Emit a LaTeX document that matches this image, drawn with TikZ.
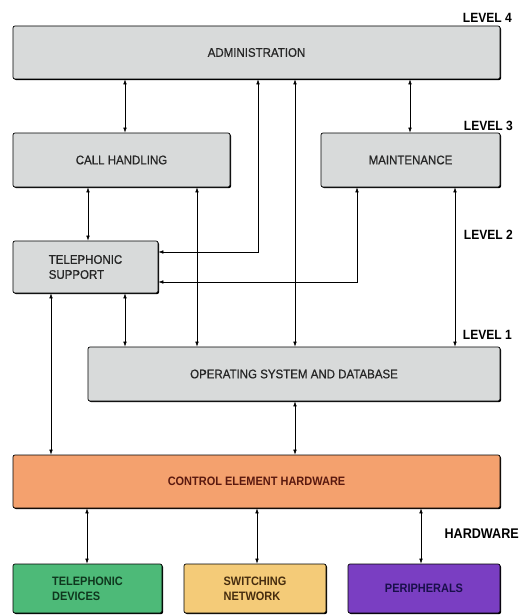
\documentclass[tikz,border=0pt]{standalone}
\usepackage{fontspec}
\setmainfont{Liberation Sans}
\newfontfamily\graytxt{Liberation Sans}[FakeStretch=0.92, FakeBold=0.7]
\newfontfamily\condtxt{Liberation Sans}[FakeStretch=0.9]
\usetikzlibrary{arrows.meta,shadows}
\definecolor{boxgray}{HTML}{D8DADA}
\definecolor{ceh}{HTML}{F4A16E}
\definecolor{tdev}{HTML}{4DBA78}
\definecolor{swn}{HTML}{F4CB78}
\definecolor{per}{HTML}{7A3EC2}
\definecolor{txtgray}{HTML}{262626}
\tikzset{
  blk/.style={draw=black, line width=0.7pt, rounded corners=2pt, fill=boxgray,
    drop shadow={shadow xshift=1.1pt, shadow yshift=-1.1pt, opacity=1, fill=black},
    inner sep=0pt, text=txtgray, font=\graytxt\fontsize{12.5}{15}\selectfont, align=center},
  hwblk/.style={blk, font=\condtxt\bfseries\fontsize{12.2}{15}\selectfont},
  lvl/.style={font=\condtxt\bfseries\fontsize{13.4}{15}\selectfont, text=black, inner sep=0pt, anchor=east},
  con/.style={line width=0.6pt, {Latex[length=5pt,width=3.6pt]}-{Latex[length=5pt,width=3.6pt]}},
}
\begin{document}
\begin{tikzpicture}[x=1pt,y=-1pt]
\useasboundingbox (0,0) rectangle (520,615);
\fill[white] (0,0) rectangle (520,615);
% boxes
\node[blk, minimum width=487pt, minimum height=53pt] (admin) at (256.5,52.5) {ADMINISTRATION};
\node[blk, minimum width=217pt, minimum height=54pt] (call) at (121.5,160) {CALL HANDLING};
\node[blk, minimum width=179pt, minimum height=54pt] (maint) at (410.5,160) {MAINTENANCE};
\node[blk, minimum width=145pt, minimum height=52pt, align=left] (tsup) at (85.5,267) {TELEPHONIC\\SUPPORT};
\node[blk, minimum width=412pt, minimum height=54pt] (os) at (294,374) {OPERATING SYSTEM AND DATABASE};
\node[hwblk, minimum width=487pt, minimum height=53pt, fill=ceh, text={rgb,255:red,90;green,25;blue,15}] (ceh) at (256.5,481.5) {CONTROL ELEMENT HARDWARE};
\node[hwblk, minimum width=149pt, minimum height=49pt, fill=tdev, align=left, text={rgb,255:red,15;green,55;blue,30}] (tdev) at (87.5,588.5) {TELEPHONIC\\DEVICES};
\node[hwblk, minimum width=142pt, minimum height=49pt, fill=swn, align=left, text={rgb,255:red,70;green,45;blue,15}] (swn) at (255,588.5) {SWITCHING\\NETWORK};
\node[hwblk, minimum width=152pt, minimum height=49pt, fill=per, text={rgb,255:red,25;green,15;blue,75}] (per) at (424,588.5) {PERIPHERALS};
% level labels
\node[lvl] (l4) at (512,18) {LEVEL 4};
\node[lvl] (l3) at (513,126) {LEVEL 3};
\node[lvl] (l2) at (513,235) {LEVEL 2};
\node[lvl] (l1) at (512,335) {LEVEL 1};
\node[lvl, font=\condtxt\bfseries\fontsize{14}{15}\selectfont] (hw) at (519,534) {HARDWARE};
% x-coordinates of connectors
\coordinate (x51) at (51,0);
\coordinate (x87) at (87,0);
\coordinate (x88) at (88,0);
\coordinate (x125) at (125,0);
\coordinate (x197) at (197,0);
\coordinate (x257) at (257,0);
\coordinate (x258) at (258,0);
\coordinate (x295) at (295,0);
\coordinate (x357) at (357,0);
\coordinate (x410) at (410,0);
\coordinate (x421) at (421,0);
\coordinate (x455) at (455,0);
\coordinate (y252) at (0,252);
\coordinate (y282) at (0,282);
% connectors
\draw[con] (admin.south -| x125) -- (call.north -| x125);
\draw[con] (admin.south -| x410) -- (maint.north -| x410);
\draw[con] (admin.south -| x295) -- (os.north -| x295);
\draw[con] (admin.south -| x258) -- (x258 |- y252) -- (tsup.east |- y252);
\draw[con] (maint.south -| x357) -- (x357 |- y282) -- (tsup.east |- y282);
\draw[con] (call.south -| x88) -- (tsup.north -| x88);
\draw[con] (call.south -| x197) -- (os.north -| x197);
\draw[con] (maint.south -| x455) -- (os.north -| x455);
\draw[con] (tsup.south -| x125) -- (os.north -| x125);
\draw[con] (tsup.south -| x51) -- (ceh.north -| x51);
\draw[con] (os.south -| x295) -- (ceh.north -| x295);
\draw[con] (ceh.south -| x87) -- (tdev.north -| x87);
\draw[con] (ceh.south -| x257) -- (swn.north -| x257);
\draw[con] (ceh.south -| x421) -- (per.north -| x421);
\end{tikzpicture}
\end{document}
